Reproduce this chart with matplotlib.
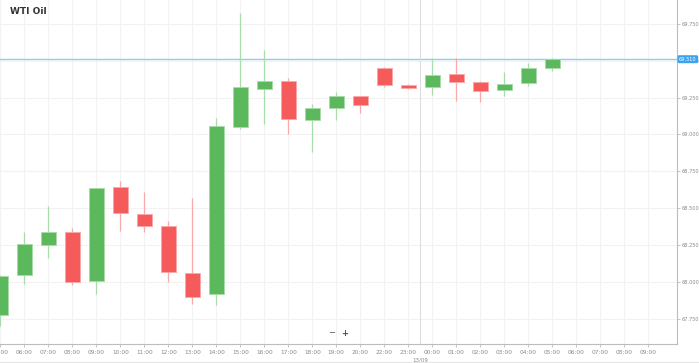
import matplotlib.pyplot as plt
import numpy as np

# hourly WTI candles, 12/09 05:00 -> 13/09 05:00 (no 21:00 bar: session break)
hours = ["05:00", "06:00", "07:00", "08:00", "09:00", "10:00", "11:00", "12:00",
         "13:00", "14:00", "15:00", "16:00", "17:00", "18:00", "19:00", "20:00",
         "22:00", "23:00", "00:00", "01:00", "02:00", "03:00", "04:00", "05:00",
         "06:00", "07:00", "08:00", "09:00"]
opens = [67.777, 68.050, 68.251, 68.341, 68.007, 68.642, 68.459, 68.378, 68.062,
         67.919, 69.049, 69.310, 69.362, 69.100, 69.180, 69.259, 69.453, 69.333,
         69.320, 69.412, 69.358, 69.299, 69.349, 69.451]
closes = [68.043, 68.258, 68.337, 68.003, 68.635, 68.468, 68.382, 68.068, 67.901,
          69.056, 69.320, 69.365, 69.105, 69.177, 69.263, 69.200, 69.335, 69.315,
          69.403, 69.356, 69.295, 69.344, 69.453, 69.510]
highs = [68.050, 68.337, 68.518, 68.367, 68.640, 68.687, 68.608, 68.412, 68.568,
         69.110, 69.825, 69.572, 69.385, 69.205, 69.286, 69.263, 69.455, 69.340,
         69.516, 69.516, 69.360, 69.423, 69.486, 69.516]
lows = [67.705, 67.987, 68.161, 67.980, 67.919, 68.346, 68.337, 68.003, 67.852,
        67.845, 69.040, 69.069, 69.005, 68.879, 69.098, 69.148, 69.320, 69.310,
        69.268, 69.229, 69.218, 69.261, 69.330, 69.430]
y_ticks = [67.75, 68.0, 68.25, 68.5, 68.75, 69.0, 69.25, 69.5, 69.75]

GREEN = "#5cb85c"
RED = "#f65b5b"
GRID = "#f2f2f2"
TXT = "#8a8a8a"

fig = plt.figure(figsize=(6.99, 3.63), dpi=100)
ax = fig.add_axes([0, 19 / 363, 677 / 699, 344 / 363])

x = np.arange(len(opens))
o = np.array(opens)
c = np.array(closes)
up = c >= o
cols = np.where(up, GREEN, RED)
wick_cols = np.where(up, "#a8dca8", "#f9a9a9")

ax.vlines(x, lows, highs, colors=wick_cols, linewidth=0.9, zorder=2)
ax.bar(x, np.abs(c - o), bottom=np.minimum(o, c), width=0.62, color=cols,
       edgecolor=wick_cols, linewidth=0.6, zorder=3)

# last price line + label
last = closes[-1]
ax.axhline(last, color="#8ccdf5", linewidth=1.0, zorder=1)
ax.text(1.003, last, f"{last:.3f}", transform=ax.get_yaxis_transform(),
        ha="left", va="center", fontsize=3.6, color="white", clip_on=False,
        bbox=dict(boxstyle="round,pad=0.3,rounding_size=0.3", fc="#3ea3ef",
                  ec="none"), zorder=5)

# day separator
ax.axvline(17.5, color="#dddddd", linewidth=0.8, zorder=1)
ax.text(17.5, -0.04, "13/09", transform=ax.get_xaxis_transform(), ha="center",
        va="top", fontsize=4.0, color=TXT)

ax.set_xlim(-0.02, 28.2)
ax.set_ylim(67.581, 69.911)
ax.set_xticks(range(len(hours)))
ax.set_xticklabels(hours)
ax.set_yticks(y_ticks)
ax.set_yticklabels([f"{v:.3f}" for v in y_ticks])
ax.yaxis.tick_right()
ax.tick_params(axis="x", labelsize=4.2, labelcolor=TXT, color="#bbbbbb",
               length=2.5, width=0.6, pad=1.5)
ax.tick_params(axis="y", labelsize=3.6, labelcolor=TXT, color="#bbbbbb",
               length=2.0, width=0.6, pad=1.0)
ax.grid(True, color=GRID, linewidth=0.8, zorder=0)
ax.set_axisbelow(True)
for side in ("top", "left"):
    ax.spines[side].set_visible(False)
for side in ("right", "bottom"):
    ax.spines[side].set_color("#bdbdbd")
    ax.spines[side].set_linewidth(0.8)

# zoom buttons (display coords, origin bottom-left)
ax.text(332, 363 - 333, "\u2212", transform=None, ha="center", va="center",
        fontsize=6, color="#555555")
ax.text(345, 363 - 333, "+", transform=None, ha="center", va="center",
        fontsize=6, color="#555555", fontweight="bold")

fig.text(10 / 699, 1 - 12 / 363, "WTI Oil", ha="left", va="center",
         fontsize=6.5, fontweight="bold", color="#333333")
fig.add_artist(plt.Line2D([0, 1], [1 / 363, 1 / 363], color="#e6e6e6",
                          linewidth=0.8))

fig.savefig("out.png", dpi=100)
